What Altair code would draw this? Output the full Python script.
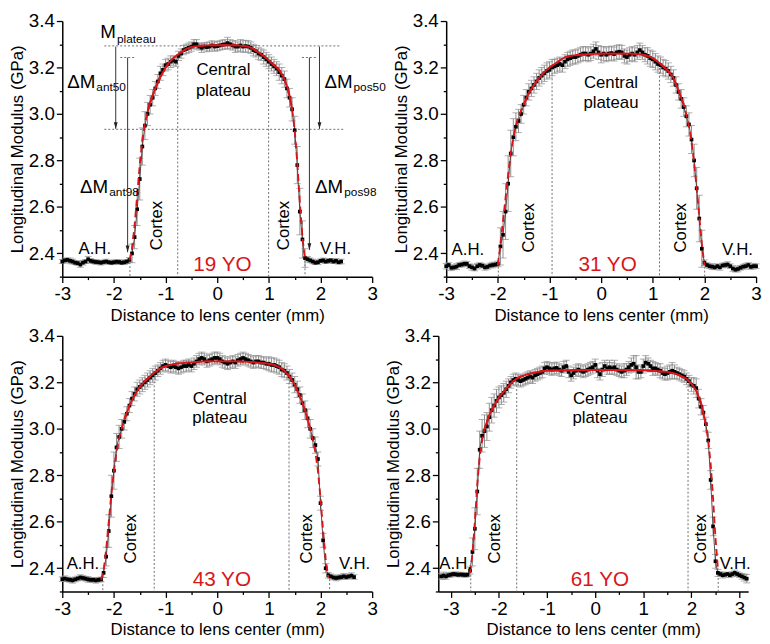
import altair as alt
import pandas as pd

FONT = "Liberation Sans"
RED = "#d8161b"
GRAY = "#8c8c8c"
W, H = 314, 259

X_TICKS = [-3, -2.5, -2, -1.5, -1, -0.5, 0, 0.5, 1, 1.5, 2, 2.5, 3]
Y_TICKS = [2.3, 2.4, 2.5, 2.6, 2.7, 2.8, 2.9, 3.0, 3.1, 3.2, 3.3, 3.4]
X_TITLE = "Distance to lens center (mm)"
Y_TITLE = "Longitudinal Modulus (GPa)"

# ---------------- Panel 1 : 19 YO ----------------
p1_x = [-3.00, -2.95, -2.90, -2.85, -2.80, -2.75, -2.70, -2.65, -2.60, -2.55, -2.50, -2.45, -2.40, -2.35,
        -2.30, -2.25, -2.20, -2.15, -2.10, -2.05, -2.00, -1.95, -1.90, -1.85, -1.80, -1.75, -1.70,
        -1.65, -1.60, -1.55, -1.50, -1.45, -1.40, -1.35, -1.30, -1.25, -1.20, -1.15, -1.10, -1.05, -1.00,
        -0.95, -0.90, -0.85, -0.80, -0.75, -0.70, -0.65, -0.60, -0.55, -0.50, -0.45, -0.40, -0.35, -0.30,
        -0.25, -0.20, -0.15, -0.10, -0.05, 0.00, 0.05, 0.10, 0.15, 0.20, 0.25, 0.30, 0.35, 0.40, 0.45,
        0.50, 0.55, 0.60, 0.65, 0.70, 0.75, 0.80, 0.85, 0.90, 0.95, 1.00, 1.05, 1.10, 1.15, 1.20, 1.25,
        1.30, 1.35, 1.40, 1.45, 1.50, 1.55, 1.60, 1.65, 1.70,
        1.75, 1.80, 1.85, 1.90, 1.95, 2.00, 2.05, 2.10, 2.15, 2.20, 2.25, 2.30, 2.35, 2.40]
p1_y = [2.365, 2.370, 2.372, 2.368, 2.365, 2.360, 2.358, 2.352, 2.360, 2.365, 2.375, 2.368, 2.365, 2.363,
        2.362, 2.360, 2.363, 2.365, 2.362, 2.360, 2.362, 2.364, 2.363, 2.360, 2.362, 2.365, 2.372,
        2.40, 2.47, 2.59, 2.72, 2.86, 2.95, 3.00, 3.04, 3.07, 3.11, 3.14, 3.175, 3.19, 3.21,
        3.215, 3.225, 3.23, 3.225, 3.25, 3.26, 3.275, 3.28, 3.285, 3.29, 3.30, 3.30, 3.29, 3.285,
        3.29, 3.288, 3.29, 3.295, 3.29, 3.292, 3.295, 3.298, 3.30, 3.305, 3.30, 3.295, 3.29, 3.29, 3.295,
        3.29, 3.292, 3.29, 3.285, 3.275, 3.27, 3.26, 3.255, 3.245, 3.235, 3.225, 3.215, 3.205, 3.195, 3.18, 3.165,
        3.15, 3.11, 3.07, 3.02, 2.93, 2.78, 2.58, 2.46, 2.38,
        2.375, 2.370, 2.365, 2.360, 2.362, 2.368, 2.370, 2.365, 2.368, 2.370, 2.365, 2.368, 2.362, 2.365]
p1_e = [0.008, 0.010, 0.008, 0.012, 0.010, 0.008, 0.010, 0.012, 0.010, 0.008, 0.012, 0.010, 0.008, 0.010,
        0.008, 0.010, 0.008, 0.010, 0.008, 0.008, 0.010, 0.008, 0.010, 0.008, 0.010, 0.008, 0.010,
        0.04, 0.05, 0.07, 0.09, 0.08, 0.06, 0.05, 0.04, 0.035, 0.03, 0.03, 0.03, 0.025, 0.025,
        0.025, 0.025, 0.02, 0.02, 0.02, 0.02, 0.02, 0.02, 0.02, 0.02, 0.02, 0.02, 0.015, 0.02,
        0.015, 0.02, 0.02, 0.02, 0.02, 0.02, 0.02, 0.02, 0.02, 0.025, 0.02, 0.02, 0.025, 0.02, 0.025,
        0.025, 0.025, 0.025, 0.025, 0.025, 0.025, 0.025, 0.025, 0.03, 0.03, 0.03, 0.03, 0.03, 0.03, 0.035, 0.035,
        0.035, 0.04, 0.04, 0.05, 0.06, 0.08, 0.10, 0.08, 0.04,
        0.012, 0.010, 0.010, 0.008, 0.010, 0.008, 0.010, 0.008, 0.010, 0.008, 0.008, 0.010, 0.008, 0.010]
p1_fit_x = [-1.70, -1.65, -1.60, -1.55, -1.50, -1.45, -1.40, -1.35, -1.30, -1.20, -1.10, -1.00, -0.90, -0.80,
            -0.70, -0.60, -0.50, -0.40, -0.20, 0.00, 0.20, 0.40, 0.60, 0.70, 0.80, 0.90, 1.00, 1.10, 1.20,
            1.30, 1.35, 1.40, 1.45, 1.50, 1.55, 1.60, 1.65, 1.70]
p1_fit_y = [2.37, 2.42, 2.52, 2.65, 2.78, 2.89, 2.96, 3.01, 3.05, 3.11, 3.16, 3.20, 3.23, 3.25,
            3.265, 3.28, 3.288, 3.292, 3.295, 3.296, 3.296, 3.295, 3.29, 3.28, 3.265, 3.25, 3.23, 3.21, 3.19,
            3.15, 3.12, 3.08, 3.02, 2.93, 2.79, 2.62, 2.47, 2.37]

# ---------------- Panel 2 : 31 YO ----------------
p2_x = [-3.00, -2.95, -2.90, -2.85, -2.80, -2.75, -2.70, -2.65, -2.60, -2.55, -2.50, -2.45, -2.40, -2.35,
        -2.30, -2.25, -2.20, -2.15, -2.10, -2.05, -2.00,
        -1.95, -1.90, -1.85, -1.80, -1.75, -1.70, -1.65, -1.60, -1.55, -1.50, -1.45, -1.40, -1.35, -1.30,
        -1.25, -1.20, -1.15, -1.10, -1.05, -1.00, -0.95, -0.90, -0.85, -0.80, -0.75, -0.70, -0.65, -0.60,
        -0.55, -0.50, -0.45, -0.40, -0.35, -0.30, -0.25, -0.20, -0.15, -0.10, -0.05,
        0.00, 0.05, 0.10, 0.15, 0.20, 0.25, 0.30, 0.35, 0.40, 0.45, 0.50, 0.55, 0.60, 0.65, 0.70, 0.75,
        0.80, 0.85, 0.90, 0.95, 1.00, 1.05, 1.10, 1.15, 1.20, 1.25, 1.30, 1.35, 1.40, 1.45, 1.50, 1.55,
        1.60, 1.65, 1.70, 1.75, 1.80, 1.85, 1.90, 1.95,
        2.00, 2.05, 2.10, 2.15, 2.20, 2.25, 2.30, 2.35, 2.40, 2.45, 2.50, 2.55, 2.60, 2.65, 2.70, 2.75,
        2.80, 2.85, 2.90, 2.95, 3.00]
p2_y = [2.345, 2.350, 2.338, 2.340, 2.343, 2.350, 2.352, 2.355, 2.355, 2.345, 2.340, 2.335, 2.345, 2.350,
        2.347, 2.340, 2.342, 2.348, 2.350, 2.352, 2.355,
        2.43, 2.48, 2.58, 2.70, 2.83, 2.90, 2.945, 2.97, 3.00, 3.04, 3.07, 3.095, 3.11, 3.125,
        3.14, 3.155, 3.165, 3.175, 3.185, 3.19, 3.20, 3.205, 3.21, 3.215, 3.21, 3.225, 3.235, 3.24,
        3.245, 3.245, 3.25, 3.255, 3.26, 3.26, 3.255, 3.26, 3.27, 3.28, 3.265,
        3.255, 3.26, 3.255, 3.26, 3.262, 3.258, 3.265, 3.268, 3.265, 3.25, 3.245, 3.255, 3.26, 3.255, 3.265, 3.275,
        3.265, 3.255, 3.25, 3.24, 3.235, 3.225, 3.215, 3.21, 3.20, 3.195, 3.185, 3.17, 3.155, 3.125, 3.095, 3.065,
        3.03, 2.99, 2.955, 2.89, 2.80, 2.68, 2.55, 2.42,
        2.360, 2.350, 2.345, 2.343, 2.340, 2.345, 2.340, 2.348, 2.350, 2.352, 2.345, 2.335, 2.330, 2.333, 2.338, 2.343,
        2.345, 2.350, 2.342, 2.345, 2.345]
p2_e = [0.012, 0.010, 0.012, 0.010, 0.012, 0.010, 0.010, 0.012, 0.010, 0.010, 0.012, 0.010, 0.012, 0.010,
        0.010, 0.012, 0.010, 0.010, 0.012, 0.010, 0.012,
        0.08, 0.10, 0.12, 0.12, 0.10, 0.08, 0.06, 0.05, 0.04, 0.04, 0.035, 0.035, 0.035, 0.035,
        0.035, 0.035, 0.035, 0.035, 0.035, 0.035, 0.035, 0.03, 0.03, 0.03, 0.03, 0.03, 0.03, 0.03,
        0.03, 0.03, 0.03, 0.03, 0.03, 0.03, 0.03, 0.03, 0.03, 0.03, 0.03,
        0.035, 0.03, 0.03, 0.03, 0.03, 0.03, 0.03, 0.03, 0.03, 0.03, 0.03, 0.03, 0.03, 0.03, 0.03, 0.03,
        0.03, 0.03, 0.035, 0.035, 0.035, 0.035, 0.035, 0.035, 0.035, 0.035, 0.035, 0.035, 0.035, 0.035, 0.035, 0.04,
        0.04, 0.045, 0.05, 0.06, 0.07, 0.09, 0.10, 0.08,
        0.012, 0.010, 0.010, 0.012, 0.010, 0.010, 0.012, 0.010, 0.010, 0.012, 0.010, 0.012, 0.010, 0.012, 0.010, 0.010,
        0.012, 0.010, 0.010, 0.012, 0.010]
p2_fit_x = [-2.00, -1.95, -1.90, -1.85, -1.80, -1.75, -1.70, -1.65, -1.60, -1.50, -1.40, -1.30, -1.20, -1.10,
            -1.00, -0.90, -0.80, -0.70, -0.60, -0.40, -0.20, 0.00, 0.20, 0.40, 0.60, 0.80, 0.90, 1.00, 1.10,
            1.20, 1.30, 1.40, 1.50, 1.60, 1.70, 1.75, 1.80, 1.85, 1.90, 1.95, 2.00]
p2_fit_y = [2.35, 2.44, 2.54, 2.64, 2.74, 2.83, 2.90, 2.95, 2.99, 3.04, 3.09, 3.125, 3.155, 3.18,
            3.20, 3.215, 3.23, 3.245, 3.25, 3.255, 3.258, 3.26, 3.26, 3.26, 3.26, 3.255, 3.25, 3.24, 3.225,
            3.205, 3.185, 3.155, 3.10, 3.04, 2.95, 2.88, 2.79, 2.68, 2.56, 2.44, 2.35]

# ---------------- Panel 3 : 43 YO ----------------
p3_x = [-3.00, -2.95, -2.90, -2.85, -2.80, -2.75, -2.70, -2.65, -2.60, -2.55, -2.50, -2.45, -2.40, -2.35,
        -2.30, -2.25,
        -2.20, -2.15, -2.10, -2.05, -2.00, -1.95, -1.90, -1.85, -1.80, -1.75, -1.70, -1.65, -1.60, -1.55,
        -1.50, -1.45, -1.40, -1.35, -1.30, -1.25, -1.20, -1.15, -1.10, -1.05, -1.00, -0.95, -0.90, -0.85,
        -0.80, -0.75, -0.70, -0.65, -0.60, -0.55, -0.50, -0.45, -0.40, -0.35, -0.30, -0.25, -0.20, -0.15,
        -0.10, -0.05,
        0.00, 0.05, 0.10, 0.15, 0.20, 0.25, 0.30, 0.35, 0.40, 0.45, 0.50, 0.55, 0.60, 0.65, 0.70, 0.75,
        0.80, 0.85, 0.90, 0.95, 1.00, 1.05, 1.10, 1.15, 1.20, 1.25, 1.30, 1.35, 1.40, 1.45, 1.50, 1.55,
        1.60, 1.65, 1.70, 1.75, 1.80, 1.85, 1.90, 1.95, 2.00, 2.05, 2.10,
        2.15, 2.20, 2.25, 2.30, 2.35, 2.40, 2.45, 2.50, 2.55, 2.60, 2.65]
p3_y = [2.353, 2.355, 2.352, 2.350, 2.348, 2.352, 2.356, 2.360, 2.358, 2.355, 2.352, 2.350, 2.350, 2.348,
        2.350, 2.352,
        2.38, 2.45, 2.56, 2.71, 2.82, 2.92, 2.965, 3.00, 3.03, 3.065, 3.10, 3.13, 3.15, 3.17,
        3.18, 3.19, 3.20, 3.21, 3.22, 3.23, 3.24, 3.25, 3.26, 3.27, 3.275, 3.27, 3.265, 3.27,
        3.265, 3.26, 3.265, 3.27, 3.27, 3.275, 3.27, 3.28, 3.29, 3.30, 3.305, 3.30, 3.29, 3.295,
        3.30, 3.305,
        3.305, 3.30, 3.29, 3.285, 3.28, 3.285, 3.29, 3.285, 3.295, 3.30, 3.305, 3.30, 3.295, 3.29, 3.285, 3.29,
        3.29, 3.285, 3.285, 3.28, 3.28, 3.275, 3.275, 3.27, 3.265, 3.255, 3.25, 3.24, 3.225, 3.21, 3.19, 3.17,
        3.145, 3.11, 3.08, 3.045, 3.00, 2.96, 2.93, 2.87, 2.68, 2.52, 2.40,
        2.370, 2.365, 2.360, 2.358, 2.360, 2.362, 2.365, 2.362, 2.365, 2.368, 2.362]
p3_e = [0.010, 0.012, 0.010, 0.010, 0.012, 0.010, 0.010, 0.012, 0.010, 0.010, 0.012, 0.010, 0.010, 0.012,
        0.010, 0.010,
        0.02, 0.04, 0.07, 0.09, 0.08, 0.06, 0.05, 0.04, 0.035, 0.03, 0.03, 0.03, 0.03, 0.03,
        0.03, 0.03, 0.03, 0.03, 0.03, 0.03, 0.03, 0.025, 0.025, 0.025, 0.025, 0.025, 0.025, 0.025,
        0.025, 0.025, 0.025, 0.025, 0.025, 0.025, 0.025, 0.025, 0.025, 0.025, 0.025, 0.025, 0.025, 0.025,
        0.025, 0.025,
        0.025, 0.025, 0.025, 0.025, 0.025, 0.025, 0.025, 0.025, 0.025, 0.025, 0.025, 0.025, 0.025, 0.025, 0.025, 0.025,
        0.025, 0.025, 0.025, 0.025, 0.03, 0.03, 0.03, 0.03, 0.03, 0.03, 0.03, 0.03, 0.03, 0.03, 0.035, 0.035,
        0.035, 0.04, 0.04, 0.04, 0.04, 0.04, 0.035, 0.03, 0.03, 0.03, 0.02,
        0.012, 0.010, 0.010, 0.012, 0.010, 0.010, 0.012, 0.010, 0.010, 0.012, 0.010]
p3_fit_x = [-2.25, -2.20, -2.15, -2.10, -2.05, -2.00, -1.95, -1.90, -1.80, -1.70, -1.60, -1.50, -1.40, -1.30,
            -1.20, -1.10, -1.00, -0.80, -0.60, -0.40, -0.20, 0.00, 0.20, 0.40, 0.60, 0.80, 1.00, 1.10, 1.20,
            1.30, 1.40, 1.50, 1.60, 1.70, 1.80, 1.90, 1.95, 2.00, 2.05, 2.10, 2.15]
p3_fit_y = [2.35, 2.39, 2.48, 2.60, 2.72, 2.82, 2.90, 2.96, 3.04, 3.10, 3.145, 3.18, 3.205, 3.225,
            3.245, 3.26, 3.27, 3.28, 3.285, 3.288, 3.29, 3.29, 3.29, 3.29, 3.288, 3.285, 3.28, 3.275, 3.265,
            3.25, 3.225, 3.19, 3.14, 3.08, 3.00, 2.90, 2.82, 2.70, 2.56, 2.44, 2.36]

# ---------------- Panel 4 : 61 YO ----------------
p4_x = [-3.20, -3.15, -3.10, -3.05, -3.00, -2.95, -2.90, -2.85, -2.80, -2.75, -2.70, -2.65, -2.60,
        -2.55, -2.50, -2.45, -2.40, -2.35, -2.30, -2.25, -2.20, -2.15, -2.10, -2.05, -2.00, -1.95, -1.90,
        -1.85, -1.80, -1.75, -1.70, -1.65, -1.60, -1.55, -1.50, -1.45, -1.40, -1.35, -1.30, -1.25, -1.20,
        -1.15, -1.10, -1.05, -1.00, -0.95, -0.90, -0.85, -0.80, -0.75, -0.70, -0.65, -0.60, -0.55, -0.50,
        -0.45, -0.40, -0.35, -0.30, -0.25, -0.20, -0.15, -0.10, -0.05,
        0.00, 0.05, 0.10, 0.15, 0.20, 0.25, 0.30, 0.35, 0.40, 0.45, 0.50, 0.55, 0.60, 0.65, 0.70, 0.75,
        0.80, 0.85, 0.90, 0.95, 1.00, 1.05, 1.10, 1.15, 1.20, 1.25, 1.30, 1.35, 1.40, 1.45, 1.50, 1.55,
        1.60, 1.65, 1.70, 1.75, 1.80, 1.85, 1.90, 1.95, 2.00, 2.05, 2.10, 2.15, 2.20, 2.25, 2.30, 2.35,
        2.40, 2.45, 2.50,
        2.55, 2.60, 2.65, 2.70, 2.75, 2.80, 2.85, 2.90, 2.95, 3.00, 3.05, 3.10, 3.15]
p4_y = [2.365, 2.368, 2.365, 2.370, 2.372, 2.375, 2.374, 2.372, 2.373, 2.372, 2.371, 2.372, 2.390,
        2.47, 2.57, 2.73, 2.91, 2.97, 2.99, 3.01, 3.05, 3.08, 3.10, 3.12, 3.135, 3.145, 3.155,
        3.17, 3.185, 3.20, 3.21, 3.215, 3.21, 3.205, 3.21, 3.215, 3.22, 3.225, 3.22, 3.23, 3.235,
        3.24, 3.245, 3.26, 3.265, 3.26, 3.255, 3.26, 3.262, 3.255, 3.25, 3.265, 3.27, 3.245, 3.23,
        3.24, 3.25, 3.255, 3.25, 3.245, 3.25, 3.255, 3.26, 3.265,
        3.275, 3.25, 3.235, 3.255, 3.27, 3.26, 3.265, 3.26, 3.265, 3.255, 3.25, 3.245, 3.25, 3.255, 3.265, 3.275,
        3.28, 3.265, 3.245, 3.245, 3.27, 3.285, 3.28, 3.27, 3.26, 3.26, 3.255, 3.25, 3.24, 3.235, 3.24, 3.245,
        3.25, 3.245, 3.24, 3.235, 3.23, 3.225, 3.215, 3.205, 3.19, 3.185, 3.175, 3.13, 3.095, 3.07, 3.02, 2.95,
        2.78, 2.58, 2.43,
        2.380, 2.375, 2.370, 2.372, 2.375, 2.370, 2.375, 2.380, 2.375, 2.370, 2.365, 2.360, 2.355]
p4_e = [0.012, 0.015, 0.012, 0.010, 0.010, 0.008, 0.010, 0.008, 0.010, 0.008, 0.010, 0.008, 0.015,
        0.06, 0.09, 0.10, 0.08, 0.07, 0.07, 0.06, 0.06, 0.055, 0.05, 0.05, 0.045, 0.04, 0.04,
        0.035, 0.03, 0.025, 0.025, 0.025, 0.025, 0.025, 0.025, 0.025, 0.025, 0.025, 0.025, 0.025, 0.025,
        0.025, 0.025, 0.025, 0.025, 0.025, 0.025, 0.025, 0.025, 0.025, 0.025, 0.025, 0.025, 0.025, 0.025,
        0.025, 0.025, 0.025, 0.025, 0.025, 0.025, 0.025, 0.025, 0.025,
        0.025, 0.03, 0.025, 0.03, 0.025, 0.025, 0.03, 0.025, 0.03, 0.025, 0.025, 0.025, 0.03, 0.025, 0.025, 0.03,
        0.035, 0.05, 0.03, 0.025, 0.03, 0.03, 0.025, 0.025, 0.03, 0.025, 0.025, 0.03, 0.025, 0.025, 0.03, 0.03,
        0.035, 0.03, 0.025, 0.025, 0.025, 0.025, 0.025, 0.025, 0.03, 0.035, 0.04, 0.04, 0.035, 0.03, 0.03, 0.035,
        0.04, 0.04, 0.03,
        0.015, 0.010, 0.012, 0.010, 0.008, 0.010, 0.010, 0.012, 0.010, 0.010, 0.012, 0.015, 0.018]
p4_fit_x = [-2.60, -2.55, -2.50, -2.45, -2.40, -2.35, -2.30, -2.20, -2.10, -2.00, -1.90, -1.80, -1.70,
            -1.60, -1.40, -1.20, -1.00, -0.50, 0.00, 0.50, 1.00, 1.50, 1.70, 1.90, 2.00, 2.10, 2.20, 2.30,
            2.35, 2.40, 2.45, 2.50, 2.55]
p4_fit_y = [2.38, 2.46, 2.60, 2.76, 2.88, 2.95, 3.00, 3.06, 3.10, 3.135, 3.16, 3.185, 3.205,
            3.22, 3.235, 3.245, 3.25, 3.252, 3.253, 3.253, 3.252, 3.245, 3.235, 3.215, 3.195, 3.165, 3.11, 3.02,
            2.95, 2.85, 2.70, 2.53, 2.40]

# ---------------- annotations (data coordinates) ----------------
# dotted guide segments: (x1, y1, x2, y2)
p1_guides = [(-2.185, 3.293, 2.38, 3.293), (-2.185, 2.934, 2.44, 2.934),
             (-1.876, 3.243, -1.587, 3.243), (1.64, 3.243, 1.92, 3.243),
             (-0.765, 3.22, -0.765, 2.3), (0.995, 3.225, 0.995, 2.3),
             (-1.69, 2.379, -1.69, 2.3), (1.70, 2.37, 1.70, 2.3)]
p2_guides = [(-0.95, 3.17, -0.95, 2.3), (1.13, 3.215, 1.13, 2.3),
             (-1.99, 2.36, -1.99, 2.3), (2.005, 2.36, 2.005, 2.3)]
p3_guides = [(-1.22, 3.238, -1.22, 2.3), (1.39, 3.25, 1.39, 2.3),
             (-2.215, 2.365, -2.215, 2.3), (2.176, 2.37, 2.176, 2.3)]
p4_guides = [(-1.63, 3.205, -1.63, 2.3), (1.93, 3.205, 1.93, 2.3),
             (-2.585, 2.39, -2.585, 2.3), (2.557, 2.375, 2.557, 2.3)]

# text positions: central label x, "Central" y, "plateau" y; cortex x's, cortex y; AH, VH, age
p1_text = {"cx": 0.12, "c1": 3.19, "c2": 3.10, "cortex": [-1.17, 1.30], "cy": 2.52,
           "ah": (-2.37, 2.42), "vh": (2.29, 2.42), "age": (0.10, 2.35), "label": "19 YO"}
p2_text = {"cx": 0.19, "c1": 3.135, "c2": 3.047, "cortex": [-1.39, 1.55], "cy": 2.51,
           "ah": (-2.58, 2.415), "vh": (2.64, 2.415), "age": (0.125, 2.35), "label": "31 YO"}
p3_text = {"cx": 0.05, "c1": 3.13, "c2": 3.045, "cortex": [-1.66, 1.73], "cy": 2.527,
           "ah": (-2.60, 2.417), "vh": (2.66, 2.417), "age": (0.09, 2.35), "label": "43 YO"}
p4_text = {"cx": 0.10, "c1": 3.13, "c2": 3.045, "cortex": [-2.08, 2.20], "cy": 2.527,
           "ah": (-2.90, 2.417), "vh": (2.91, 2.417), "age": (0.10, 2.35), "label": "61 YO"}

# panel-1 modulus annotations: (main, subscript, x_split, main baseline y, sub baseline y)
p1_labels = [("M", "plateau", -1.96, 3.325, 3.305),
             ("ΔM", "ant50", -2.36, 3.11, 3.10),
             ("ΔM", "pos50", 2.62, 3.11, 3.10),
             ("ΔM", "ant98", -2.11, 2.661, 2.645),
             ("ΔM", "pos98", 2.44, 2.661, 2.645)]
# arrows: (x, y_top, y_tip)
p1_arrows = [(-1.965, 3.29, 2.936), (-1.735, 3.243, 2.405),
             (1.98, 3.29, 2.936), (1.785, 3.243, 2.415)]


def xenc(field, dom):
    return alt.X(field, type="quantitative", title=X_TITLE,
                 scale=alt.Scale(domain=dom, nice=False, zero=False),
                 axis=alt.Axis(values=X_TICKS, grid=False, labelFlush=False, labelOverlap=False,
                               labelExpr="datum.value % 1 === 0 ? '' + datum.value : ''",
                               tickSize={"condition": {"test": "datum.value % 1 === 0", "value": 6}, "value": 3}))


def yenc(field):
    return alt.Y(field, type="quantitative", title=Y_TITLE,
                 scale=alt.Scale(domain=[2.3, 3.4], nice=False, zero=False),
                 axis=alt.Axis(values=Y_TICKS, grid=False, labelOverlap=False,
                               labelExpr="round(datum.value * 10) % 2 === 0 ? format(datum.value, '.1f') : ''",
                               tickSize={"condition": {"test": "round(datum.value * 10) % 2 === 0", "value": 6}, "value": 3}))


def panel(px, py, pe, fx, fy, dom, guides, txt, labels=None, arrows=None):
    pts = pd.DataFrame({"x": px, "y": py,
                        "lo": [a - b for a, b in zip(py, pe)],
                        "hi": [a + b for a, b in zip(py, pe)]})
    caps = pd.DataFrame({"x": px + px, "y": [a - b for a, b in zip(py, pe)] + [a + b for a, b in zip(py, pe)]})
    fit = pd.DataFrame({"x": fx, "y": fy})
    gd = pd.DataFrame(guides, columns=["x", "y", "x2", "y2"])

    layers = []
    layers.append(alt.Chart(gd).mark_rule(color="#6e6e6e", strokeDash=[2, 2], strokeWidth=1).encode(
        x=xenc("x", dom), x2="x2", y=yenc("y"), y2="y2"))
    layers.append(alt.Chart(pts).mark_rule(color=GRAY, strokeWidth=1).encode(
        x=xenc("x", dom), y=yenc("lo"), y2="hi"))
    layers.append(alt.Chart(caps).mark_tick(color=GRAY, orient="horizontal", size=7, thickness=1).encode(
        x=xenc("x", dom), y=yenc("y")))
    layers.append(alt.Chart(pts).mark_line(color="#222222", strokeWidth=0.8).encode(
        x=xenc("x", dom), y=yenc("y"), order="x:Q"))
    layers.append(alt.Chart(pts).mark_square(color="black", size=14, opacity=1).encode(
        x=xenc("x", dom), y=yenc("y")))
    layers.append(alt.Chart(fit).mark_line(color=RED, strokeWidth=1.9, strokeDash=[7, 4]).encode(
        x=xenc("x", dom), y=yenc("y"), order="x:Q"))
    layers.append(alt.Chart(fit).transform_filter(alt.datum.y >= 3.0).mark_line(color=RED, strokeWidth=1.9).encode(
        x=xenc("x", dom), y=yenc("y"), order="x:Q"))

    normal = pd.DataFrame({"x": [txt["cx"], txt["cx"], txt["ah"][0], txt["vh"][0]],
                           "y": [txt["c1"], txt["c2"], txt["ah"][1], txt["vh"][1]],
                           "t": ["Central", "plateau", "A.H.", "V.H."]})
    layers.append(alt.Chart(normal).mark_text(font=FONT, fontSize=17, color="black", baseline="middle").encode(
        x=xenc("x", dom), y=yenc("y"), text="t"))
    cortex = pd.DataFrame({"x": txt["cortex"], "y": [txt["cy"], txt["cy"]], "t": ["Cortex", "Cortex"]})
    layers.append(alt.Chart(cortex).mark_text(font=FONT, fontSize=17, color="black", angle=270,
                                              baseline="middle", align="center").encode(
        x=xenc("x", dom), y=yenc("y"), text="t"))
    age = pd.DataFrame({"x": [txt["age"][0]], "y": [txt["age"][1]], "t": [txt["label"]]})
    layers.append(alt.Chart(age).mark_text(font=FONT, fontSize=21, color=RED, baseline="middle").encode(
        x=xenc("x", dom), y=yenc("y"), text="t"))

    if labels:
        main = pd.DataFrame({"x": [l[2] for l in labels], "y": [l[3] for l in labels], "t": [l[0] for l in labels]})
        sub = pd.DataFrame({"x": [l[2] for l in labels], "y": [l[4] for l in labels], "t": [l[1] for l in labels]})
        layers.append(alt.Chart(main).mark_text(font=FONT, fontSize=19, color="black", align="right",
                                                baseline="alphabetic").encode(
            x=xenc("x", dom), y=yenc("y"), text="t"))
        layers.append(alt.Chart(sub).mark_text(font=FONT, fontSize=12, color="black", align="left",
                                               baseline="alphabetic", dx=1).encode(
            x=xenc("x", dom), y=yenc("y"), text="t"))
    if arrows:
        ar = pd.DataFrame(arrows, columns=["x", "y", "y2"])
        layers.append(alt.Chart(ar).mark_rule(color="#333333", strokeWidth=1).encode(
            x=xenc("x", dom), y=yenc("y"), y2="y2"))
        layers.append(alt.Chart(ar).mark_point(shape="M-1.3,-4.5L1.3,-4.5L0,0Z", filled=True, size=9,
                                               color="#222222", opacity=1).encode(
            x=xenc("x", dom), y=yenc("y2")))

    return alt.layer(*layers).properties(width=W, height=H)


c1 = panel(p1_x, p1_y, p1_e, p1_fit_x, p1_fit_y, [-3, 3], p1_guides, p1_text, p1_labels, p1_arrows)
c2 = panel(p2_x, p2_y, p2_e, p2_fit_x, p2_fit_y, [-3, 3], p2_guides, p2_text)
c3 = panel(p3_x, p3_y, p3_e, p3_fit_x, p3_fit_y, [-3, 3], p3_guides, p3_text)
c4 = panel(p4_x, p4_y, p4_e, p4_fit_x, p4_fit_y, [-3.26, 3.18], p4_guides, p4_text)

chart = alt.vconcat(
    alt.hconcat(c1, c2, spacing=6),
    alt.hconcat(c3, c4, spacing=6),
    spacing=4,
).properties(padding=0).configure_view(stroke=None).configure_axis(
    labelFont=FONT, titleFont=FONT, labelFontSize=19, titleFontSize=17, titleFontWeight="normal",
    labelColor="black", titleColor="black", domainColor="black", tickColor="black",
    domainWidth=1.5, tickWidth=1.3, labelPadding=2,
).configure_axisY(titlePadding=2).configure_axisX(titlePadding=4)

chart.save("out.html", embed_options={"renderer": "svg", "actions": False})
